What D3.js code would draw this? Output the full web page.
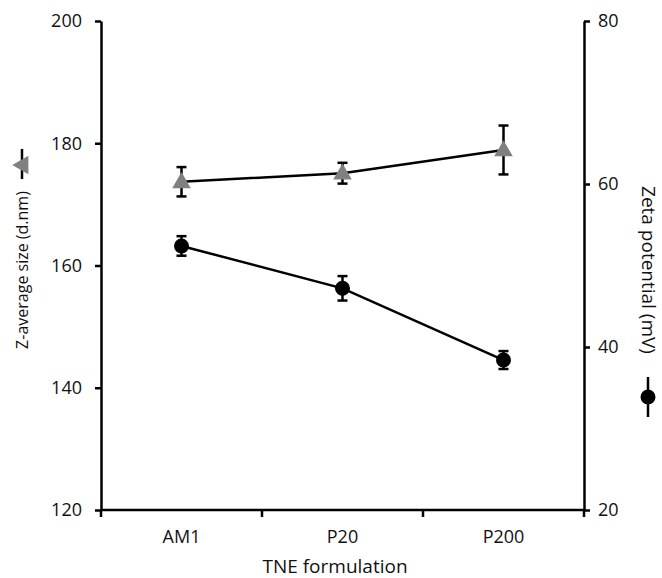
<!DOCTYPE html>
<html lang="en">
<head>
    <meta charset="UTF-8">
    <title>TNE formulation</title>
    <style>
        body { margin: 0; background: #fff; }
        .axis path, .axis line { stroke: #000; stroke-width: 2.5px; }
        .axis text { font-family: "Open Sans", sans-serif; font-size: 18px; fill: #111; }
        .title { font-family: "Open Sans", sans-serif; font-size: 18px; fill: #111; }
    </style>
    <script src="https://d3js.org/d3.v7.min.js"></script>
</head>
<body>
    <svg id="chart"></svg>

    <script>
        const categories = ["AM1", "P20", "P200"];
        const sizeValues = [173.7, 175.1, 178.9];
        const sizeErrors = [2.4, 1.7, 4.0];
        const zetaValues = [52.4, 47.2, 38.4];
        const zetaErrors = [1.2, 1.5, 1.1];
        const leftTicks = [120, 140, 160, 180, 200];
        const rightTicks = [20, 40, 60, 80];

        const width = 662;
        const height = 578;
        const margin = {top: 21, right: 78, bottom: 68, left: 101};

        const svg = d3.select("#chart")
            .attr("width", width)
            .attr("height", height);

        const x = d3.scaleBand()
            .domain(categories)
            .range([margin.left, width - margin.right]);

        const yL = d3.scaleLinear().domain([120, 200]).range([height - margin.bottom, margin.top]);
        const yR = d3.scaleLinear().domain([20, 80]).range([height - margin.bottom, margin.top]);

        // axes
        svg.append("g")
            .attr("class", "axis")
            .attr("transform", `translate(${margin.left},0)`)
            .call(d3.axisLeft(yL).tickValues(leftTicks).tickSize(6).tickPadding(13).tickSizeOuter(0));

        svg.append("g")
            .attr("class", "axis right")
            .attr("transform", `translate(${width - margin.right},0)`)
            .call(d3.axisRight(yR).tickValues(rightTicks).tickSize(6).tickPadding(8).tickSizeOuter(0));

        // x axis: ticks on band edges, labels in the middle
        const xAxis = svg.append("g")
            .attr("class", "axis")
            .attr("transform", `translate(0,${height - margin.bottom})`);
        xAxis.append("line")
            .attr("x1", margin.left).attr("x2", width - margin.right);
        const edges = categories.map(c => x(c)).concat([x(categories[2]) + x.bandwidth()]);
        xAxis.selectAll(".edge")
            .data(edges)
            .enter().append("line")
            .attr("class", "edge")
            .attr("x1", d => d).attr("x2", d => d)
            .attr("y1", 0).attr("y2", 7);
        xAxis.selectAll(".lab")
            .data(categories)
            .enter().append("text")
            .attr("class", "lab")
            .attr("x", d => x(d) + x.bandwidth() / 2)
            .attr("y", 33)
            .attr("text-anchor", "middle")
            .text(d => d);

        const cx = d => x(d) + x.bandwidth() / 2;

        // series lines
        const sizeLine = d3.line().x((d, i) => cx(categories[i])).y(d => yL(d));
        const zetaLine = d3.line().x((d, i) => cx(categories[i])).y(d => yR(d));

        svg.append("path").attr("d", sizeLine(sizeValues))
            .attr("fill", "none").attr("stroke", "#000").attr("stroke-width", 2.5);
        svg.append("path").attr("d", zetaLine(zetaValues))
            .attr("fill", "none").attr("stroke", "#000").attr("stroke-width", 2.5);

        // error bars
        function errorBars(vals, errs, y) {
            const g = svg.append("g").attr("stroke", "#000").attr("stroke-width", 2.5);
            vals.forEach((v, i) => {
                const px = cx(categories[i]);
                g.append("line").attr("x1", px).attr("x2", px).attr("y1", y(v - errs[i])).attr("y2", y(v + errs[i]));
                g.append("line").attr("x1", px - 5).attr("x2", px + 5).attr("y1", y(v - errs[i])).attr("y2", y(v - errs[i]));
                g.append("line").attr("x1", px - 5).attr("x2", px + 5).attr("y1", y(v + errs[i])).attr("y2", y(v + errs[i]));
            });
        }
        errorBars(sizeValues, sizeErrors, yL);
        errorBars(zetaValues, zetaErrors, yR);

        const tri = d3.symbol().type(d3.symbolTriangle).size(150);

        svg.selectAll(".tri")
            .data(sizeValues)
            .enter().append("path")
            .attr("class", "tri")
            .attr("d", tri)
            .attr("transform", (d, i) => `translate(${cx(categories[i])},${yL(d) + 1})`)
            .attr("fill", "#808080");

        svg.selectAll(".dot")
            .data(zetaValues)
            .enter().append("circle")
            .attr("class", "dot")
            .attr("cx", (d, i) => cx(categories[i]))
            .attr("cy", d => yR(d))
            .attr("r", 7.5)
            .attr("fill", "#000");

        // x title
        svg.append("text").attr("class", "title")
            .style("font-size", "19px")
            .attr("x", 335)
            .attr("y", 573)
            .attr("text-anchor", "middle")
            .text("TNE formulation");

        // left title with legend symbol
        const lt = svg.append("g").attr("transform", "translate(22,270) rotate(-90)");
        lt.append("text").attr("class", "title")
            .style("font-size", "16px")
            .attr("x", 0).attr("y", 6)
            .attr("text-anchor", "middle")
            .text("Z-average size (d.nm)");
        lt.append("line").attr("x1", 91).attr("x2", 121).attr("y1", 0).attr("y2", 0)
            .attr("stroke", "#000").attr("stroke-width", 2.5);
        lt.append("path").attr("d", tri).attr("transform", "translate(105,1)").attr("fill", "#808080");

        // right title with legend symbol
        const rt = svg.append("g").attr("transform", "translate(648,270) rotate(90)");
        rt.append("text").attr("class", "title")
            .style("font-size", "19px")
            .attr("x", 0).attr("y", 6)
            .attr("text-anchor", "middle")
            .text("Zeta potential (mV)");
        rt.append("line").attr("x1", 107).attr("x2", 147).attr("y1", 0).attr("y2", 0)
            .attr("stroke", "#000").attr("stroke-width", 2.5);
        rt.append("circle").attr("cx", 127).attr("cy", 0).attr("r", 7.5).attr("fill", "#000");
    </script>
</body>
</html>
